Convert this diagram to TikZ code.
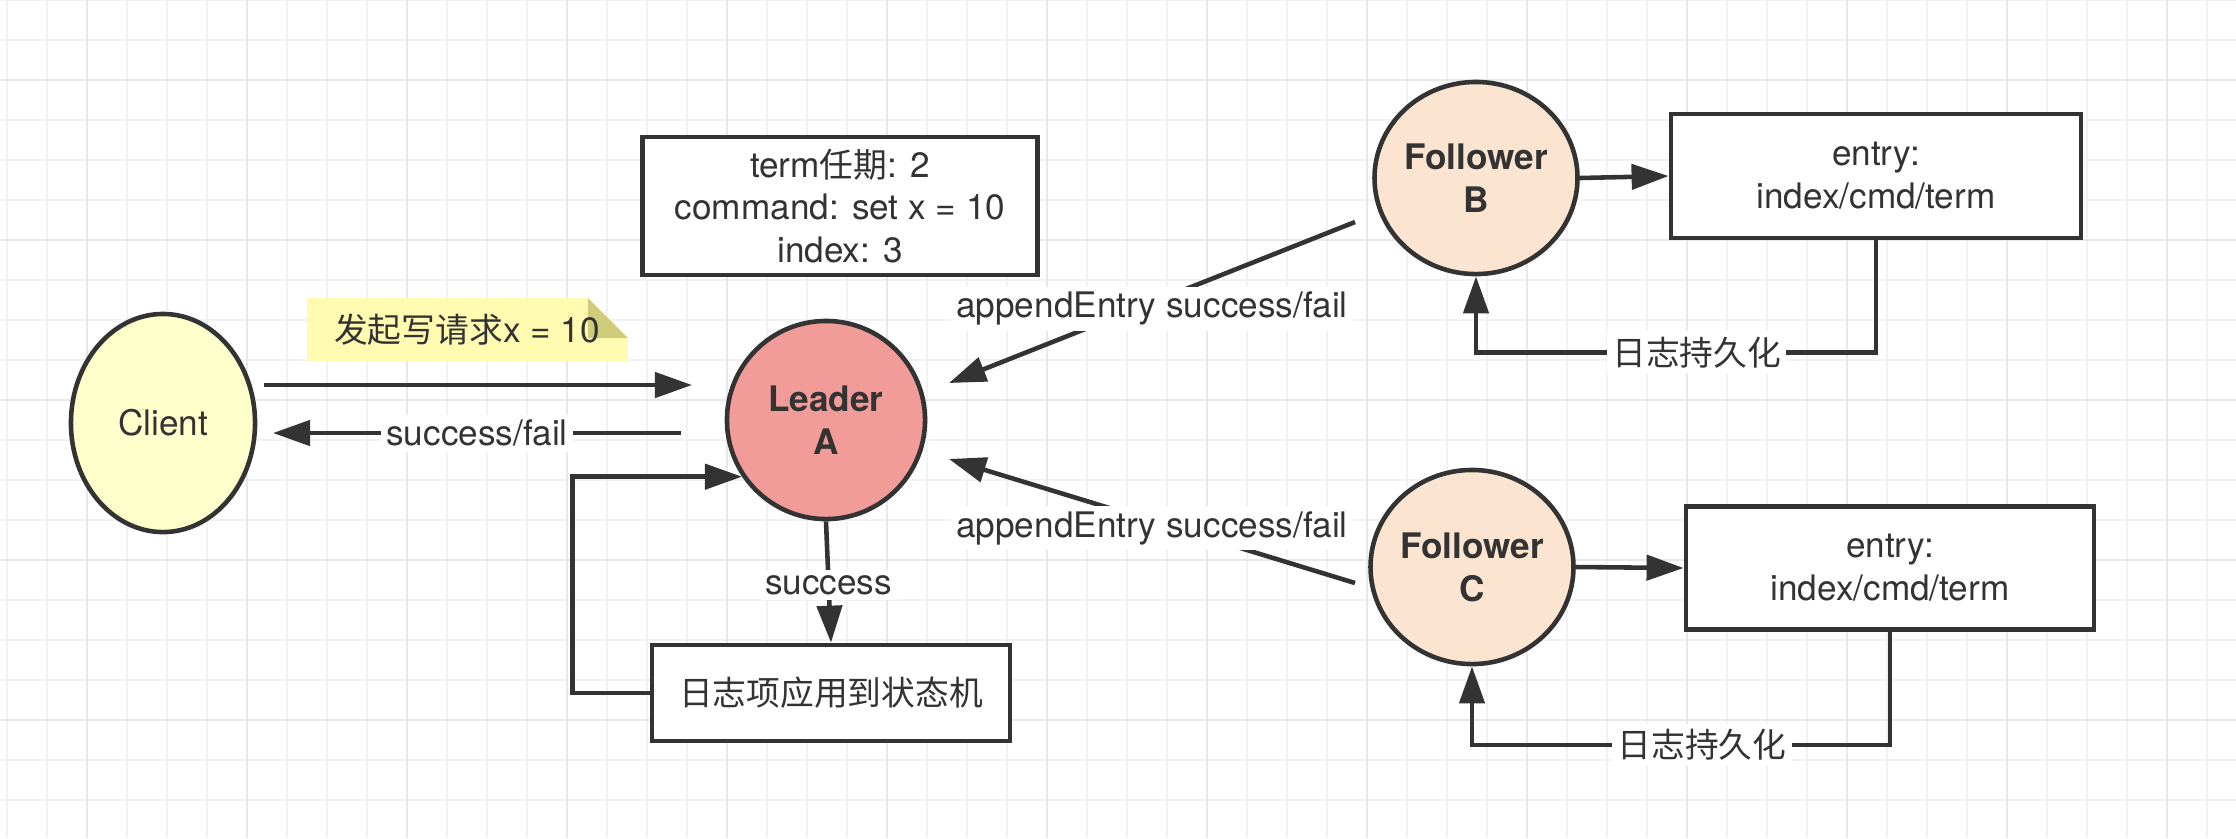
\documentclass[tikz,border=0pt]{standalone}
\usepackage{fontspec}
\setmainfont{TeX Gyre Heros}
\newfontfamily\cjk[Scale=0.96]{Noto Sans CJK SC}
\usetikzlibrary{shapes.geometric,arrows.meta}
\newcommand{\px}{0.01cm}
\newcommand{\fs}{\fontsize{10pt}{12.2pt}\selectfont}
\definecolor{ink}{HTML}{333333}
\definecolor{clientfill}{HTML}{FFFFCC}
\definecolor{leaderfill}{HTML}{F19C99}
\definecolor{followerfill}{HTML}{FCE5D0}
\definecolor{notefill}{HTML}{FFFBB0}
\definecolor{notefold}{HTML}{CFCD7A}

\begin{document}
\begin{tikzpicture}[x=\px, y=-\px,
    every node/.append style={font=\fs, text=ink},
    gridminor/.style={draw=gray!10, line width=0.6pt},
    gridmajor/.style={draw=gray!18, line width=0.6pt},
    circ/.style={draw=ink, ellipse, line width=1.3pt, inner sep=0pt, align=center},
    rect/.style={draw=ink, fill=white, rectangle, line width=1.3pt, inner sep=0pt, align=center},
    arr/.style={draw=ink, line width=1.3pt, -{Triangle[length=0.37cm, width=0.25cm]}},
    lbl/.style={fill=white, inner sep=1.5pt}]
    \useasboundingbox (0,0) rectangle (2236,838);
    \fill[white] (0,0) rectangle (2236,838);

    % Grid
    \foreach \gx in {7,47,...,2236} \draw[gridminor] (\gx,0) -- (\gx,838);
    \foreach \gy in {0,40,...,838} \draw[gridminor] (0,\gy) -- (2236,\gy);
    \foreach \gx in {87,247,...,2236} \draw[gridmajor] (\gx,0) -- (\gx,838);
    \foreach \gy in {80,240,...,838} \draw[gridmajor] (0,\gy) -- (2236,\gy);

    % Note
    \fill[notefill] (307,298) -- (588,298) -- (628,338) -- (628,361) -- (307,361) -- cycle;
    \fill[notefold] (588,298) -- (588,338) -- (628,338) -- cycle;
    \node (note-req) at (467,330) {{\cjk 发起写请求}x = 10};

    % Client and leader
    \node[circ, fill=clientfill, minimum width=1.84cm, minimum height=2.18cm] (node-client) at (163,423) {Client};
    \node[circ, fill=leaderfill, minimum width=1.98cm, minimum height=1.98cm, font=\fs\bfseries] (node-leader) at (826,420) {Leader\\A};
    \node[rect, minimum width=3.95cm, minimum height=1.38cm] (box-term) at (840,206) {term{\cjk 任期}: 2\\command: set x = 10\\index: 3};
    \node[rect, minimum width=3.58cm, minimum height=0.96cm] (box-apply) at (831,693) {\cjk 日志项应用到状态机};

    % Followers
    \node[circ, fill=followerfill, minimum width=1.94cm, minimum height=1.92cm, font=\fs\bfseries] (node-follower-b) at (1476,178) {Follower\\B};
    \node[circ, fill=followerfill, minimum width=1.94cm, minimum height=1.94cm, font=\fs\bfseries] (node-follower-c) at (1472,567) {Follower\\C};
    \node[rect, minimum width=4.10cm, minimum height=1.24cm] (box-entry-b) at (1876,176) {entry:\\index/cmd/term};
    \node[rect, minimum width=4.08cm, minimum height=1.23cm] (box-entry-c) at (1890,568) {entry:\\index/cmd/term};

    % Free ends
    \coordinate (req-start) at (264,385);
    \coordinate (req-end) at (692,385);
    \coordinate (resp-start) at (681,433);
    \coordinate (resp-end) at (273,433);
    \coordinate (b-out) at (1355,222);
    \coordinate (b-in) at (949,383);
    \coordinate (c-out) at (1355,583);
    \coordinate (c-in) at (949,459);

    % Connectors
    \draw[arr] (req-start) -- (req-end);
    \draw[arr] (resp-start) -- node[lbl] {success/fail} (resp-end);
    \draw[arr] (node-leader.south) -- node[lbl, yshift=-0.03cm] {success} (box-apply.north);
    \draw[arr] (box-apply.west) -- ++(-77,0) |- (node-leader.214);
    \draw[arr] (b-out) -- node[lbl, yshift=-0.06cm] {appendEntry success/fail} (b-in);
    \draw[arr] (c-out) -- node[lbl, yshift=-0.07cm] {appendEntry success/fail} (c-in);
    \draw[arr] (node-follower-b.east) -- (box-entry-b.west);
    \draw[arr] (node-follower-c.east) -- (box-entry-c.west);
    \draw[arr] (box-entry-b.south) -- ++(0,112) -| node[lbl, pos=0.224] {\cjk 日志持久化} (node-follower-b.south);
    \draw[arr] (box-entry-c.south) -- ++(0,113) -| node[lbl, pos=0.225] {\cjk 日志持久化} (node-follower-c.south);
\end{tikzpicture}
\end{document}
